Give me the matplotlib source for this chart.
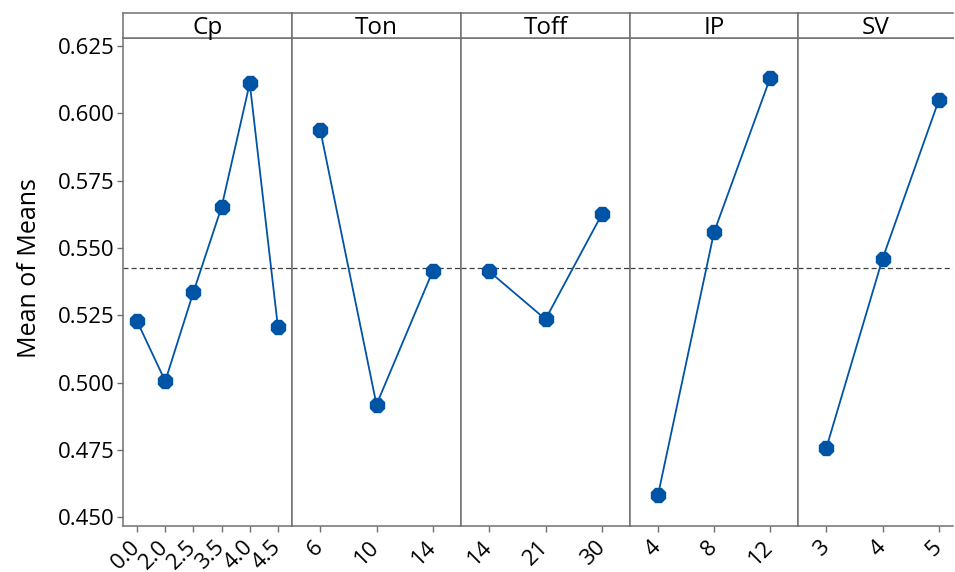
import matplotlib
matplotlib.use("Agg")
import matplotlib.pyplot as plt

plt.rcParams['font.family'] = ['Open Sans', 'DejaVu Sans']
plt.rcParams['font.weight'] = 'medium'

# main effects data (means of means per factor level)
factors = ['Cp', 'Ton', 'Toff', 'IP', 'SV']
levels = {
    'Cp': ['0.0', '2.0', '2.5', '3.5', '4.0', '4.5'],
    'Ton': ['6', '10', '14'],
    'Toff': ['14', '21', '30'],
    'IP': ['4', '8', '12'],
    'SV': ['3', '4', '5'],
}
cp_means = [0.5228, 0.5005, 0.5336, 0.5652, 0.6112, 0.5206]
ton_means = [0.5940, 0.4918, 0.5415]
toff_means = [0.5413, 0.5235, 0.5625]
ip_means = [0.4582, 0.5558, 0.6130]
sv_means = [0.4755, 0.5460, 0.6050]
means = {'Cp': cp_means, 'Ton': ton_means, 'Toff': toff_means,
         'IP': ip_means, 'SV': sv_means}
grand_mean = 0.5424
y_ticks = [0.450, 0.475, 0.500, 0.525, 0.550, 0.575, 0.600, 0.625]

W, H = 955, 572
fig = plt.figure(figsize=(W / 100, H / 100), dpi=100)

blue = '#0054a6'
frame = '#707070'
left_px, plot_top, plot_bot, head_top = 123, 38, 526, 13
panel_px = [169, 169, 169, 168, 155]
right_pad = [0.5, 0.5, 0.5, 0.5, 0.25]

x0 = left_px
for i, (name, wpx) in enumerate(zip(factors, panel_px)):
    ax = fig.add_axes([x0 / W, 1 - plot_bot / H, wpx / W, (plot_bot - plot_top) / H])
    hd = fig.add_axes([x0 / W, 1 - plot_top / H, wpx / W, (plot_top - head_top) / H])
    x0 += wpx

    vals = means[name]
    labs = levels[name]
    xs = range(len(vals))
    ax.axhline(grand_mean, color='#404040', ls=(0, (4, 2.5)), lw=0.9, zorder=1)
    ax.plot(xs, vals, color=blue, lw=1.3, marker='8', ms=10.5, mfc=blue, mec=blue, zorder=3)
    ax.set_ylim(0.4467, 0.628)
    ax.set_xlim(-0.5, len(vals) - 1 + right_pad[i])
    ax.set_xticks(list(xs))
    ax.set_xticklabels(labs, rotation=45, ha='right', va='center',
                       rotation_mode='anchor', fontsize=16)
    ax.tick_params(axis='x', pad=9)
    ax.set_yticks(y_ticks)
    if i == 0:
        ax.set_yticklabels([f'{v:.3f}' for v in y_ticks], fontsize=16)
    else:
        ax.tick_params(axis='y', left=False, labelleft=False)
    ax.tick_params(direction='out', length=4, width=1, color=frame)
    ax.tick_params(axis='y', pad=2)
    for s in ax.spines.values():
        s.set_color(frame)
        s.set_linewidth(1.1)
    ax.spines['right'].set_visible(i < len(factors) - 1)

    hd.set_xticks([])
    hd.set_yticks([])
    for s in hd.spines.values():
        s.set_color(frame)
        s.set_linewidth(1.1)
    hd.spines['right'].set_visible(i < len(factors) - 1)
    hd.text(0.5, 0.42, name, transform=hd.transAxes, ha='center', va='center',
            fontsize=17.5, fontweight='medium')

fig.text(30 / W, 1 - 268 / H, 'Mean of Means', rotation=90, ha='center',
         va='center', fontsize=18)

fig.savefig('out.png', dpi=100)
